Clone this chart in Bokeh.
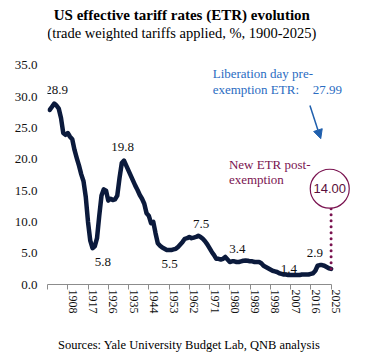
from bokeh.plotting import figure
from bokeh.models import (Label, Arrow, NormalHead, FixedTicker, PrintfTickFormatter,
                          ColumnDataSource, Div, LinearAxis, Range1d)
from bokeh.layouts import column
from bokeh.embed import file_html
from bokeh.resources import INLINE

years = list(range(1900, 2026))
etr = [
    27.9, 28.4, 28.9, 28.6, 28.1, 26.6, 24.2, 23.9, 24.2, 23.6,   # 1900-1909
    23.2, 21.5, 20.2, 19.0, 17.6, 16.5, 14.0, 10.0, 7.0, 5.8,     # 1910-1919
    6.1, 7.4, 11.0, 14.2, 15.2, 15.0, 13.4, 13.7, 13.5, 13.6,     # 1920-1929
    14.2, 17.0, 19.4, 19.8, 19.0, 18.2, 17.4, 16.6, 15.8, 15.1,   # 1930-1939
    14.3, 13.7, 12.9, 11.4, 11.0, 9.8, 10.0, 8.2, 6.6, 6.2,       # 1940-1949
    5.9, 5.7, 5.5, 5.5, 5.5, 5.6, 5.7, 6.0, 6.4, 6.8,             # 1950-1959
    7.3, 7.4, 7.6, 7.4, 7.5, 7.6, 7.8, 7.6, 7.3, 6.9,             # 1960-1969
    6.4, 5.8, 5.2, 4.7, 4.1, 4.1, 4.0, 4.1, 4.4, 4.0,             # 1970-1979
    3.6, 3.7, 3.7, 3.6, 3.6, 3.7, 3.8, 3.85, 3.8, 3.7,            # 1980-1989
    3.7, 3.6, 3.6, 3.6, 3.4, 3.0, 2.8, 2.6, 2.4, 2.2,             # 1990-1999
    2.1, 2.0, 1.8, 1.7, 1.6, 1.6, 1.5, 1.5, 1.5, 1.5,             # 2000-2009
    1.5, 1.5, 1.6, 1.6, 1.6, 1.6, 1.7, 1.8, 2.2, 3.0,             # 2010-2019
    3.1, 3.1, 3.0, 2.8, 2.6, 2.5,                                 # 2020-2025
]
tick_years = [1899, 1908, 1917, 1926, 1935, 1944, 1953, 1962, 1971, 1980, 1989, 1998, 2007, 2016, 2025]
y_ticks = [0, 5, 10, 15, 20, 25, 30, 35]

point_labels = ["28.9", "19.8", "5.8", "5.5", "7.5", "3.4", "1.4", "2.9"]
point_label_x = [1903.1, 1932.4, 1923.6, 1953.3, 1967.3, 1983.4, 2006.2, 2017.8]
point_label_y = [31.15, 21.9, 3.6, 3.3, 9.7, 5.7, 2.5, 5.05]

pre_exemption = 27.99
post_exemption = 14.00

NAVY = "#0b1a3c"
BLUE = "#2a6cc2"
MAROON = "#7a1350"
SERIF = "Liberation Serif"
SANS = "Liberation Sans"

X0, X1 = 1899, 2039.4
LABEL_SHIFT = 5 / 2.25  # tick labels sit ~5px right of their tick marks

p = figure(width=363, height=333, output_backend="svg", toolbar_location=None,
           x_range=(X0, X1), y_range=(0, 45.37),
           min_border_left=47, min_border_right=0, min_border_top=0, min_border_bottom=49)
p.outline_line_color = None
p.xgrid.visible = False
p.ygrid.visible = False
p.background_fill_color = "white"
p.border_fill_color = "white"

src = ColumnDataSource(dict(year=years, etr=etr))
p.line("year", "etr", source=src, line_color=NAVY, line_width=4.5, line_join="round", line_cap="round")

# x axis: line and tick marks
p.xaxis.ticker = FixedTicker(ticks=tick_years)
p.xaxis.major_label_overrides = {t: "" for t in tick_years}
p.xaxis.bounds = (1899, 2025.3)
p.xaxis.axis_line_color = "#8c8c8c"
p.xaxis.major_tick_line_color = "#8c8c8c"
p.xaxis.major_tick_out = 5
p.xaxis.major_tick_in = 0
p.xaxis.minor_tick_line_color = None
p.xaxis.major_label_standoff = 5
p.xaxis.major_label_text_font_size = "1px"

# x axis tick labels, slightly offset to the right
p.extra_x_ranges = {"lbl": Range1d(X0 - LABEL_SHIFT, X1 - LABEL_SHIFT)}
lab_axis = LinearAxis(x_range_name="lbl", ticker=FixedTicker(ticks=tick_years),
                      major_label_overrides={1899: ""}, major_label_orientation="vertical",
                      axis_line_color=None, major_tick_line_color=None, minor_tick_line_color=None,
                      major_tick_out=0, major_tick_in=0, major_label_standoff=0,
                      major_label_text_font=SERIF, major_label_text_font_size="12px",
                      major_label_text_color="#111111")
p.add_layout(lab_axis, "below")

p.yaxis.ticker = FixedTicker(ticks=y_ticks)
p.yaxis.formatter = PrintfTickFormatter(format="%.1f")
p.yaxis.axis_line_color = None
p.yaxis.major_tick_line_color = None
p.yaxis.minor_tick_line_color = None
p.yaxis.major_tick_out = 0
p.yaxis.major_tick_in = 0
p.yaxis.major_label_text_font = SERIF
p.yaxis.major_label_text_font_size = "13px"
p.yaxis.major_label_text_color = "#111111"
p.yaxis.major_label_standoff = 10

# value labels on the line
for t, lx, ly in zip(point_labels, point_label_x, point_label_y):
    p.add_layout(Label(x=lx, y=ly, text=t, text_font=SERIF, text_font_size="13px",
                       text_color="#111111", text_align="center", text_baseline="middle"))

# titles
p.add_layout(Label(x=1958.7, y=42.98, text="US effective tariff rates (ETR) evolution",
                   text_font=SERIF, text_font_size="15px", text_font_style="bold",
                   text_color="#000000", text_align="center", text_baseline="middle"))
p.add_layout(Label(x=1958.7, y=40.15, text="(trade weighted tariffs applied, %, 1900-2025)",
                   text_font=SERIF, text_font_size="14.5px",
                   text_color="#000000", text_align="center", text_baseline="middle"))

# Liberation day annotation
p.add_layout(Label(x=1972.4, y=33.7, text="Liberation day pre-", text_font=SERIF,
                   text_font_size="13px", text_color=BLUE, text_baseline="middle"))
p.add_layout(Label(x=1972.4, y=31.15, text="exemption ETR:", text_font=SERIF,
                   text_font_size="13px", text_color=BLUE, text_baseline="middle"))
p.add_layout(Label(x=2016.8, y=31.15, text=f"{pre_exemption:.2f}", text_font=SERIF,
                   text_font_size="13px", text_color=BLUE, text_baseline="middle"))
p.add_layout(Arrow(x_start=2015.6, y_start=28.6, x_end=2020.4, y_end=23.3,
                   line_color="#1f5fad", line_width=1.5,
                   end=NormalHead(size=9, fill_color="#1f5fad", line_color="#1f5fad")))

# New ETR annotation
p.add_layout(Label(x=1979.6, y=19.1, text="New ETR post-", text_font=SERIF,
                   text_font_size="13px", text_color=MAROON, text_baseline="middle"))
p.add_layout(Label(x=1979.6, y=16.7, text="exemption", text_font=SERIF,
                   text_font_size="13px", text_color=MAROON, text_baseline="middle"))
p.line([years[-1], years[-1]], [etr[-1], 12.8], line_color=MAROON, line_width=3,
       line_dash="0 6", line_cap="round")
p.scatter([2024.4], [15.3], marker="circle", size=39, fill_color="white",
          line_color=MAROON, line_width=1.2)
p.add_layout(Label(x=2024.4, y=15.3, text=f"{post_exemption:.2f}", text_font=SANS,
                   text_font_size="13px", text_color="#5a0f3a", text_align="center",
                   text_baseline="middle"))

source_note = Div(text="Sources: Yale University Budget Lab, QNB analysis", width=363, height=20,
                  styles={"font-family": "'Liberation Serif', serif", "font-size": "12.5px",
                          "color": "#000000", "padding-left": "53px", "line-height": "14px"})

layout = column(p, source_note, spacing=0)
open("out.html", "w").write(file_html(layout, INLINE))
